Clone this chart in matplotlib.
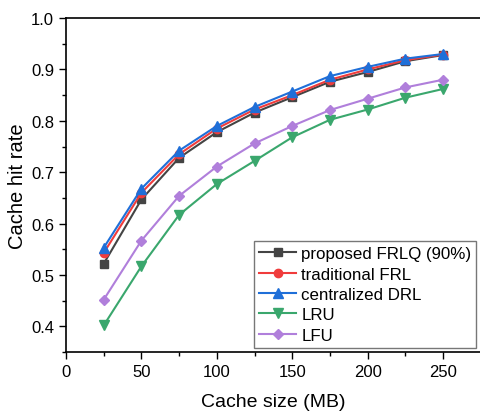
import matplotlib.pyplot as plt
from matplotlib.ticker import MultipleLocator

plt.rcParams['font.family'] = ['Liberation Sans', 'DejaVu Sans']

cache_size = [25, 50, 75, 100, 125, 150, 175, 200, 225, 250]
proposed = [0.522, 0.647, 0.728, 0.778, 0.816, 0.846, 0.876, 0.895, 0.916, 0.928]
traditional = [0.543, 0.660, 0.735, 0.785, 0.822, 0.850, 0.880, 0.900, 0.918, 0.929]
centralized = [0.553, 0.668, 0.742, 0.790, 0.827, 0.857, 0.887, 0.905, 0.921, 0.930]
lru = [0.402, 0.517, 0.617, 0.677, 0.722, 0.768, 0.802, 0.822, 0.845, 0.862]
lfu = [0.452, 0.567, 0.654, 0.711, 0.756, 0.790, 0.821, 0.843, 0.865, 0.880]

fig = plt.figure(figsize=(4.8, 4.14), dpi=100)
ax = fig.add_axes([0.1375, 0.147, 0.864, 0.807])

ax.plot(cache_size, proposed, color='#444444', marker='s', ms=6, lw=1.5, label='proposed FRLQ (90%)')
ax.plot(cache_size, traditional, color='#f03c3c', marker='o', ms=6, lw=1.5, label='traditional FRL')
ax.plot(cache_size, centralized, color='#1f6fd8', marker='^', ms=7, lw=1.5, label='centralized DRL')
ax.plot(cache_size, lru, color='#3aa76d', marker='v', ms=7, lw=1.5, label='LRU')
ax.plot(cache_size, lfu, color='#b07fdb', marker='D', ms=5.5, lw=1.5, label='LFU')

ax.set_xlim(0, 275)
ax.set_ylim(0.35, 1.0)
ax.xaxis.set_major_locator(MultipleLocator(50))
ax.xaxis.set_minor_locator(MultipleLocator(25))
ax.yaxis.set_major_locator(MultipleLocator(0.1))
ax.yaxis.set_minor_locator(MultipleLocator(0.05))
ax.tick_params(which='major', direction='out', length=5, width=1, labelsize=12)
ax.tick_params(which='minor', direction='out', length=3, width=1)
for s in ax.spines.values():
    s.set_linewidth(1.2)

ax.set_xlabel('Cache size (MB)', fontsize=14, labelpad=10)
ax.set_ylabel('Cache hit rate', fontsize=14.5, labelpad=3)

leg = ax.legend(loc='lower right', fontsize=12.2, frameon=True, fancybox=False,
                edgecolor='#555555', handlelength=2.2, handletextpad=0.3,
                labelspacing=0.32, borderpad=0.3, borderaxespad=0.25)
leg.get_frame().set_linewidth(1.0)

fig.savefig('out.png', dpi=100)
